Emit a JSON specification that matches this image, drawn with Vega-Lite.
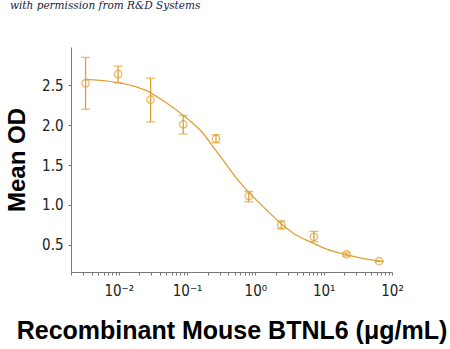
{
  "$schema": "https://vega.github.io/schema/vega-lite/v6.json",
  "width": 321,
  "height": 225,
  "autosize": {"type": "none"},
  "padding": {"left": 71, "top": 47, "right": 58, "bottom": 77},
  "background": "white",
  "title": {"text": "with permission from R&D Systems", "anchor": "start", "frame": "group", "dx": -61, "offset": 26, "baseline": "bottom", "font": "DejaVu Serif", "fontStyle": "italic", "fontWeight": "normal", "fontSize": 10.5, "color": "#1a2340"},
  "config": {"view": {"stroke": null}},
  "datasets": {
    "pts": [
      {"conc": 0.00327, "od": 2.525, "lo": 2.2, "hi": 2.85},
      {"conc": 0.0098, "od": 2.64, "lo": 2.53, "hi": 2.74},
      {"conc": 0.0292, "od": 2.32, "lo": 2.04, "hi": 2.59},
      {"conc": 0.088, "od": 2.01, "lo": 1.89, "hi": 2.12},
      {"conc": 0.265, "od": 1.83, "lo": 1.78, "hi": 1.88},
      {"conc": 0.8, "od": 1.11, "lo": 1.04, "hi": 1.17},
      {"conc": 2.39, "od": 0.75, "lo": 0.70, "hi": 0.80},
      {"conc": 7.2, "od": 0.60, "lo": 0.54, "hi": 0.67},
      {"conc": 21.6, "od": 0.38, "lo": 0.36, "hi": 0.40},
      {"conc": 65, "od": 0.295, "lo": 0.29, "hi": 0.30}
    ],
    "curve": [
      {"conc": 0.00318, "od": 2.575},
      {"conc": 0.00527, "od": 2.562},
      {"conc": 0.00977, "od": 2.534},
      {"conc": 0.01815, "od": 2.479},
      {"conc": 0.0284, "od": 2.412},
      {"conc": 0.0399, "od": 2.334},
      {"conc": 0.0559, "od": 2.25},
      {"conc": 0.0875, "od": 2.125},
      {"conc": 0.172, "od": 1.896},
      {"conc": 0.241, "od": 1.729},
      {"conc": 0.337, "od": 1.562},
      {"conc": 0.531, "od": 1.334},
      {"conc": 0.83, "od": 1.146},
      {"conc": 1.458, "od": 0.9375},
      {"conc": 2.285, "od": 0.779},
      {"conc": 3.58, "od": 0.646},
      {"conc": 7.03, "od": 0.521},
      {"conc": 11.04, "od": 0.446},
      {"conc": 21.7, "od": 0.375},
      {"conc": 34.0, "od": 0.3375},
      {"conc": 66.0, "od": 0.298}
    ]
  },
  "encoding": {
    "x": {
      "field": "conc", "type": "quantitative",
      "scale": {"type": "log", "domain": [0.002, 100], "nice": false},
      "axis": {
        "title": "Recombinant Mouse BTNL6 (μg/mL)",
        "titleFont": "Liberation Sans", "titleFontSize": 25, "titleFontWeight": "bold", "titleColor": "#000",
        "titlePadding": 20,
        "values": [0.002,0.003,0.004,0.005,0.006,0.007,0.008,0.009,0.01,0.02,0.03,0.04,0.05,0.06,0.07,0.08,0.09,0.1,0.2,0.3,0.4,0.5,0.6,0.7,0.8,0.9,1,2,3,4,5,6,7,8,9,10,20,30,40,50,60,70,80,90,100],
        "labelExpr": "datum.value == 0.01 ? '10⁻²' : datum.value == 0.1 ? '10⁻¹' : datum.value == 1 ? '10⁰' : datum.value == 10 ? '10¹' : datum.value == 100 ? '10²' : ''",
        "labelFont": "Liberation Sans Narrow, DejaVu Sans Condensed, sans-serif", "labelFontSize": 15, "labelColor": "#222",
        "labelPadding": 8, "labelOverlap": false, "labelFlush": false,
        "tickSize": 3, "tickColor": "#777", "domainColor": "#777", "grid": false
      }
    },
    "y": {
      "type": "quantitative",
      "scale": {"domain": [0.16, 2.98], "nice": false, "zero": false},
      "axis": {
        "title": "Mean OD",
        "titleFont": "Liberation Sans", "titleFontSize": 24, "titleFontWeight": "bold", "titleColor": "#000",
        "titlePadding": 12,
        "values": [0.5, 1, 1.5, 2, 2.5], "format": ".1f",
        "labelFont": "Liberation Sans Narrow, DejaVu Sans Condensed, sans-serif", "labelFontSize": 15, "labelColor": "#222",
        "labelPadding": 5,
        "tickSize": 3, "tickColor": "#777", "domainColor": "#777", "grid": false
      }
    }
  },
  "layer": [
    {"data": {"name": "curve"}, "mark": {"type": "line", "color": "#DFA032", "strokeWidth": 1.3, "interpolate": "monotone"}, "encoding": {"y": {"field": "od", "type": "quantitative"}}},
    {"data": {"name": "pts"}, "mark": {"type": "rule", "color": "#DFA032", "strokeWidth": 1.3}, "encoding": {"y": {"field": "lo", "type": "quantitative"}, "y2": {"field": "hi"}}},
    {"data": {"name": "pts"}, "mark": {"type": "tick", "orient": "horizontal", "color": "#DFA032", "size": 9, "thickness": 1.3}, "encoding": {"y": {"field": "lo", "type": "quantitative"}}},
    {"data": {"name": "pts"}, "mark": {"type": "tick", "orient": "horizontal", "color": "#DFA032", "size": 9, "thickness": 1.3}, "encoding": {"y": {"field": "hi", "type": "quantitative"}}},
    {"data": {"name": "pts"}, "mark": {"type": "point", "shape": "circle", "filled": false, "color": "#DFA032", "size": 55, "strokeWidth": 1.3}, "encoding": {"y": {"field": "od", "type": "quantitative"}}}
  ]
}
